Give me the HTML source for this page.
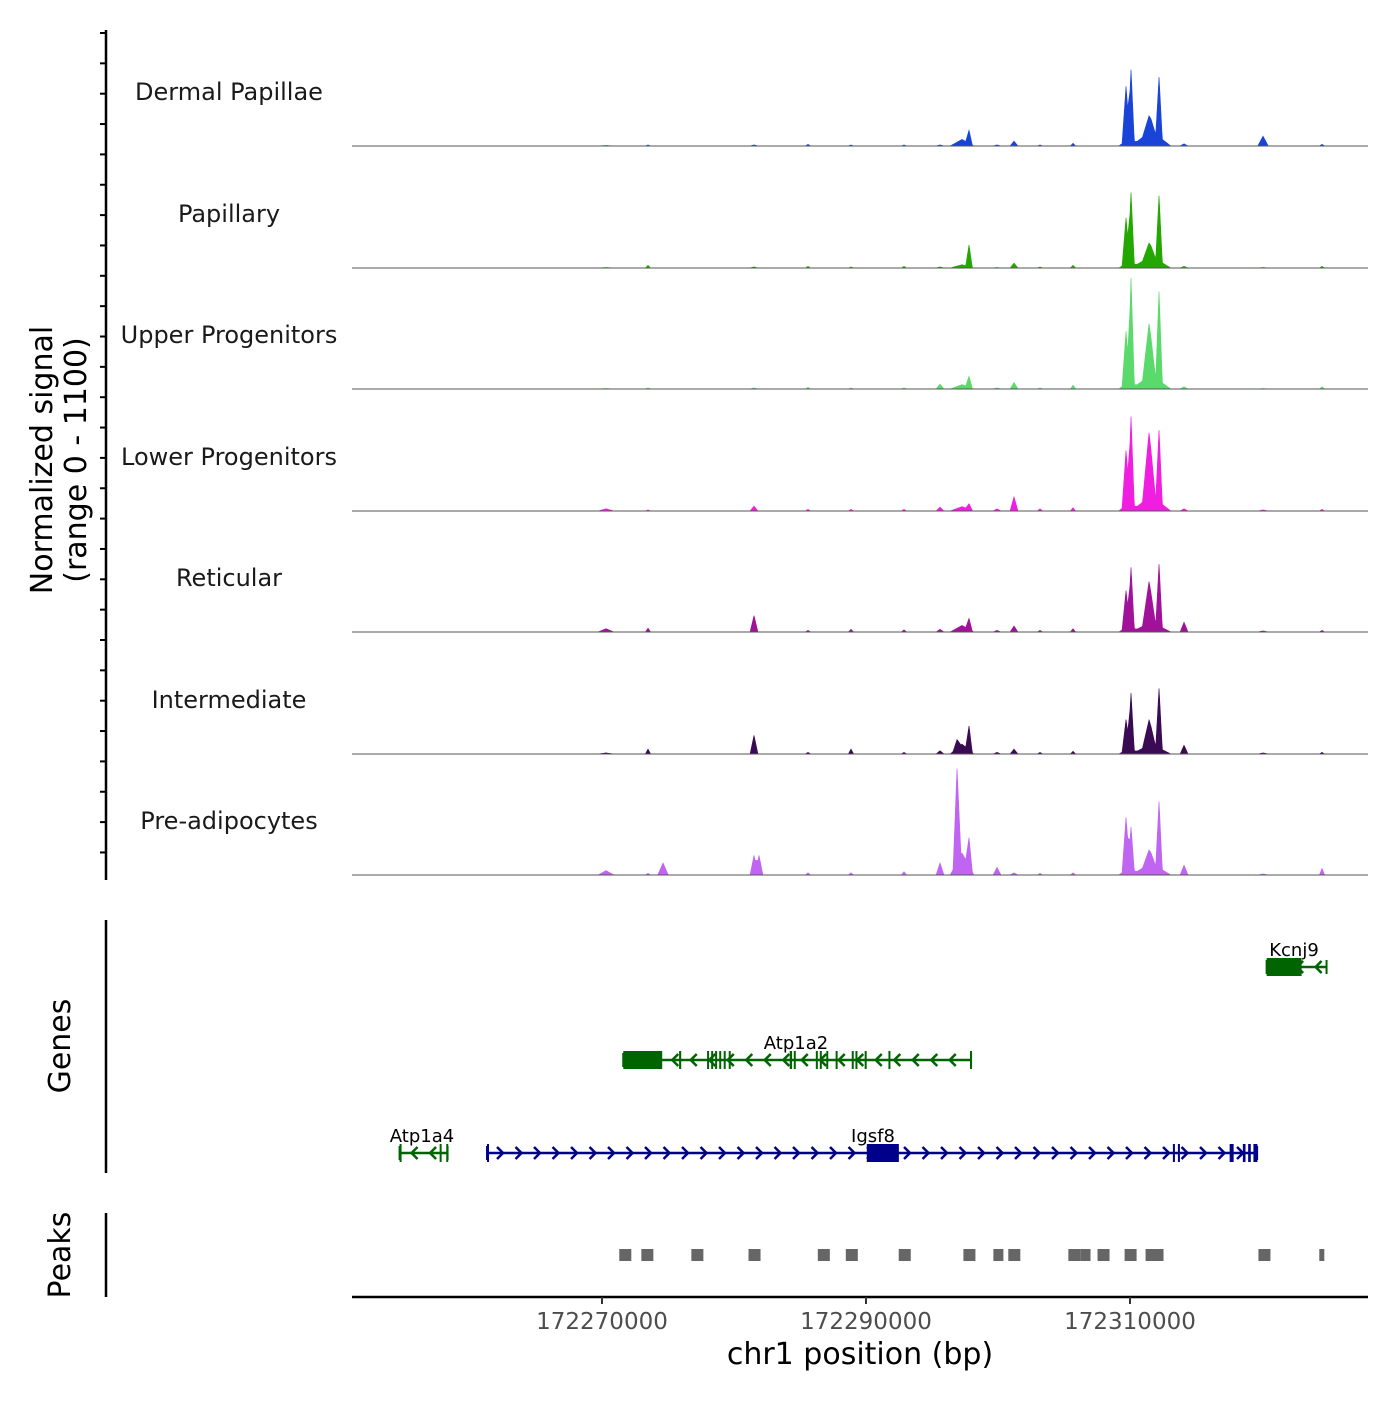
<!DOCTYPE html>
<html><head><meta charset="utf-8"><style>
body{margin:0;background:#fff}
svg text{font-family:"DejaVu Sans","Liberation Sans",sans-serif}
</style></head><body>
<svg id="c" width="1400" height="1400" viewBox="0 0 1400 1400" xmlns="http://www.w3.org/2000/svg"></svg>
<script>
const trackNames=["Dermal Papillae","Papillary","Upper Progenitors","Lower Progenitors","Reticular","Intermediate","Pre-adipocytes"];
const trackColors=["#1a44d8","#22a800","#5ada6a","#f01ee0","#a0129a","#3a0a52","#c064f2"];
const peakPos=[172309699,172310078,172311442,172312200,172311594,172314094,172297805,172296896,172297275,172301214,172281516,172281895,172273486,172274622,172320078,172324548,172305684,172295608,172285608,172288864,172292879,172299926,172270304,172303184,172309850];
const peakWidth=[300,250,500,250,1500,300,250,300,900,300,300,300,200,400,400,200,200,300,200,200,200,300,600,200,700];
const hDermal=[500,660,150,550,140,20,120,0,60,45,10,0,10,0,90,15,25,10,15,10,10,10,5,10,60];
const hPapillary=[420,660,130,600,110,15,200,0,30,45,10,0,25,0,5,15,25,10,15,10,15,5,5,10,50];
const hUpper=[480,980,480,820,130,20,100,0,40,60,10,0,10,0,5,20,35,45,15,10,10,10,5,10,60];
const hLower=[500,820,590,660,140,20,50,0,40,130,45,0,10,0,10,15,30,35,15,15,15,20,20,20,70];
const hReticular=[340,560,380,570,90,90,100,0,60,55,150,0,35,0,10,15,30,25,15,25,20,15,30,15,50];
const hIntermediate=[280,530,230,550,90,80,220,80,90,45,170,0,45,0,10,15,25,30,15,45,15,15,10,15,45];
const hPre=[480,400,130,610,110,90,260,860,200,20,180,180,15,110,10,60,20,110,20,20,30,70,40,15,60];
const trackHeights=[hDermal,hPapillary,hUpper,hLower,hReticular,hIntermediate,hPre];
const xTicks=[172270000,172290000,172310000];
const xMin=172251061,xMax=172328030,signalMax=1100;
const geneNames=["Kcnj9","Atp1a2","Atp1a4","Igsf8"];
const geneStrand=["-","-","-","+"];
const geneStart=[172320350,172271610,172254665,172261290];
const geneEnd=[172324890,172297960,172258300,172319630];
const geneRow=[0,1,2,2];
const geneColor=["#006400","#006400","#006400","#00008b"];
const geneExons=[
 [[172320350,172323000]],
 [[172271610,172274560],[172275840,172276000],[172277960,172278100],[172278270,172278400],[172278570,172278700],[172278880,172279000],[172279220,172279350],[172279600,172279700],[172284220,172284400],[172284530,172284650],[172286200,172286320],[172286500,172286620],[172286990,172287100],[172287700,172287800],[172288920,172289000],[172289200,172289280],[172289900,172289980],[172291700,172291780],[172297880,172297960]],
 [[172254665,172254800],[172257700,172257800],[172258200,172258300]],
 [[172261290,172261400],[172290060,172292490],[172313250,172313350],[172313630,172313730],[172317550,172317850],[172318550,172318750],[172318950,172319150],[172319350,172319550],[172319500,172319630]]
];
const peakStart=[172271310,172272980,172276770,172281100,172286350,172288470,172292480,172297380,172299650,172300780,172305330,172306250,172307540,172309590,172311180,172311710,172319730,172324340];
const peakEnd=[172272220,172273890,172277680,172282010,172287260,172289380,172293390,172298290,172300410,172301690,172306240,172307010,172308450,172310500,172311940,172312540,172320640,172324720];

const svg=document.getElementById('c');
const NS="http://www.w3.org/2000/svg";
function mk(t,a,p){const e=document.createElementNS(NS,t);for(const k in a)e.setAttribute(k,a[k]);(p||svg).appendChild(e);return e;}
const X0=352,X1=1368;
const xs=v=>X0+(v-xMin)/(xMax-xMin)*(X1-X0);
const baselines=[146,268,389,511,632,754,875];
const trackH=121;
const ys=(v,b)=>b-v/signalMax*trackH;

const ax=mk('line',{x1:106,y1:30,x2:106,y2:880,stroke:'#000','stroke-width':2.5});


for(let y=33;y<=880;y+=30.35){const t=mk('line',{x1:100,y1:y,x2:106,y2:y,stroke:'#000','stroke-width':2});

}
const yt=mk('text',{transform:'translate(52,460) rotate(-90)','text-anchor':'middle','font-size':30,fill:'#000'});


yt.innerHTML='<tspan x="0" dy="0">Normalized signal</tspan><tspan x="0" dy="34">(range 0 - 1100)</tspan>';

trackNames.forEach((nm,i)=>{
 const b=baselines[i];
 const g=mk('g',{});
 
 
 const lab=mk('text',{x:229,y:b-46,'text-anchor':'middle','font-size':24,fill:'#1a1a1a'},g);
 lab.textContent=nm;
 
 
 const hs=trackHeights[i];
 let d='M'+X0+','+b;
 const step=(xMax-xMin)/2032;
 for(let s=0;s<=2032;s++){
  const pos=xMin+s*step;let v=0;
  for(let k=0;k<peakPos.length;k++){const w=peakWidth[k];const dd=Math.abs(pos-peakPos[k]);if(dd<w)v+=hs[k]*(1-dd/w);}
  v=Math.min(v,signalMax);
  d+=' L'+xs(pos).toFixed(2)+','+ys(v,b).toFixed(2);
 }
 d+=' L'+X1+','+b+' Z';
 const p=mk('path',{d:d,fill:trackColors[i],stroke:trackColors[i],'stroke-width':0.6},g);
 
 
 const bl=mk('line',{x1:X0,y1:b,x2:X1,y2:b,stroke:'#555','stroke-width':1},g);
 
 
});

const gl=mk('line',{x1:106,y1:920,x2:106,y2:1173,stroke:'#000','stroke-width':2.5});


const gt=mk('text',{transform:'translate(70,1046) rotate(-90)','text-anchor':'middle','font-size':30});
gt.textContent='Genes';


const rowY=[967,1060,1153];
geneNames.forEach((nm,i)=>{
 const y=rowY[geneRow[i]],c=geneColor[i];
 const g=mk('g',{});
 
 
 const a=xs(geneStart[i]),e=xs(geneEnd[i]);
 mk('line',{x1:a,y1:y,x2:e,y2:y,stroke:c,'stroke-width':2.5},g);
 for(let x=a+14;x<e-4;x+=18.5){
  const dir=geneStrand[i]=='+'?1:-1;
  mk('polyline',{points:`${x-4*dir},${y-6} ${x+2*dir},${y} ${x-4*dir},${y+6}`,fill:'none',stroke:c,'stroke-width':2.5},g);
 }
 mk('line',{x1:a,y1:y-7,x2:a,y2:y+7,stroke:c,'stroke-width':2},g);
 mk('line',{x1:e,y1:y-7,x2:e,y2:y+7,stroke:c,'stroke-width':2},g);
 geneExons[i].forEach(ex=>{const x1=xs(ex[0]),x2=xs(ex[1]);mk('rect',{x:x1,y:y-9,width:Math.max(2,x2-x1),height:18,fill:c},g);});
 const lx={Kcnj9:1294,Atp1a2:796,Atp1a4:422,Igsf8:873}[nm];
 const t=mk('text',{x:lx,y:y-11,'text-anchor':'middle','font-size':18,fill:'#000'},g);
 t.textContent=nm;
});

const pl=mk('line',{x1:106,y1:1213,x2:106,y2:1297,stroke:'#000','stroke-width':2.5});


const pt=mk('text',{transform:'translate(70,1255) rotate(-90)','text-anchor':'middle','font-size':30});
pt.textContent='Peaks';


peakStart.forEach((s,i)=>{
 const x1=xs(s),x2=xs(peakEnd[i]);
 const r=mk('rect',{x:x1,y:1249,width:x2-x1,height:12,fill:'#666'});
 
 
});

const xl=mk('line',{x1:X0,y1:1297,x2:X1,y2:1297,stroke:'#000','stroke-width':2.5});


xTicks.forEach(v=>{
 const x=xs(v);
 const t=mk('line',{x1:x,y1:1297,x2:x,y2:1304,stroke:'#333','stroke-width':2});
 
 
 const l=mk('text',{x:x,y:1329,'text-anchor':'middle','font-size':23,fill:'#4d4d4d'});
 l.textContent=v;
 
 
});
const xt=mk('text',{x:860,y:1364,'text-anchor':'middle','font-size':30,fill:'#000'});
xt.textContent='chr1 position (bp)';


</script>
</body></html>
